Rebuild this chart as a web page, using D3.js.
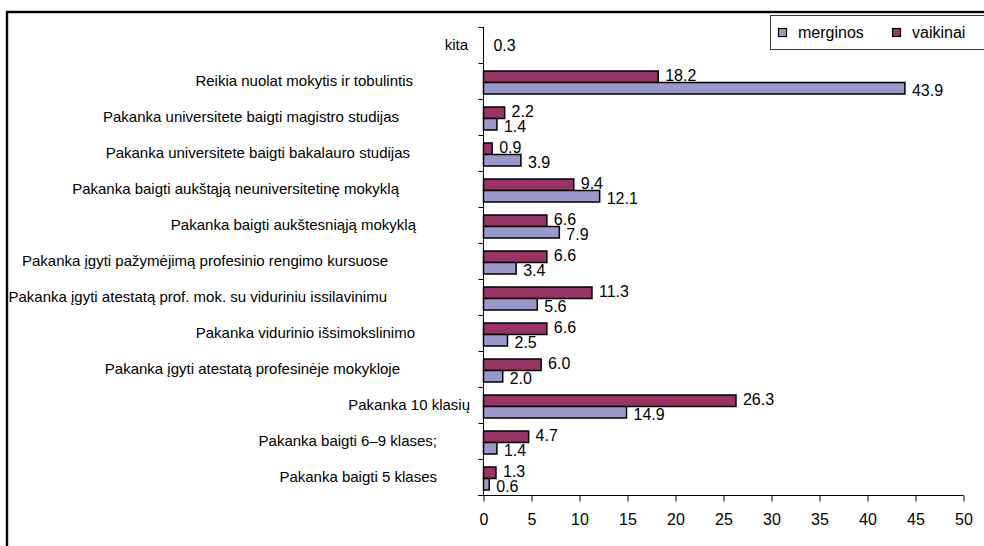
<!DOCTYPE html>
<html>
<head>
<meta charset="utf-8">
<script src="https://cdn.jsdelivr.net/npm/d3@7"></script>
<style>
  body { margin: 0; background: #fff; }
  text { font-family: "Liberation Sans", Arial, sans-serif; fill: #000; }
</style>
</head>
<body>
<div id="chart"></div>
<script>
var width = 984,
  height = 546;

// categories, top to bottom
var categories = [
  'kita',
  'Reikia nuolat mokytis ir tobulintis',
  'Pakanka universitete baigti magistro studijas',
  'Pakanka universitete baigti bakalauro studijas',
  'Pakanka baigti aukštąją neuniversitetinę mokyklą',
  'Pakanka baigti aukštesniąją mokyklą',
  'Pakanka įgyti pažymėjimą profesinio rengimo kursuose',
  'Pakanka įgyti atestatą prof. mok. su viduriniu issilavinimu',
  'Pakanka vidurinio išsimokslinimo',
  'Pakanka įgyti atestatą profesinėje mokykloje',
  'Pakanka 10 klasių',
  'Pakanka baigti 6–9 klases;',
  'Pakanka baigti 5 klases'
];

var merginos = [null, 43.9, 1.4, 3.9, 12.1, 7.9, 3.4, 5.6, 2.5, 2.0, 14.9, 1.4, 0.6];
var vaikinai = [0.3, 18.2, 2.2, 0.9, 9.4, 6.6, 6.6, 11.3, 6.6, 6.0, 26.3, 4.7, 1.3];

var seriesNames = ['merginos', 'vaikinai'];
var seriesColors = { merginos: '#9999CC', vaikinai: '#993366' };
var xTicks = [0, 5, 10, 15, 20, 25, 30, 35, 40, 45, 50];
var labelOnly = ['kita']; // value shown, no bar drawn in the original

// right edge of each category label in the original layout (not aligned)
var labelEnd = [468, 413, 399, 410, 399, 416, 388, 387, 415, 400, 470, 437, 437];

var svg = d3.select('#chart').append('svg')
  .attr('width', width)
  .attr('height', height);

// outer frame (runs past right and bottom edges)
svg.append('rect')
  .attr('x', 7).attr('y', 12)
  .attr('width', 1100).attr('height', 700)
  .attr('fill', 'none')
  .attr('stroke', '#000')
  .attr('stroke-width', 2.4);

var x = d3.scaleLinear().domain([0, 50]).range([483.5, 963.5]);
var y = d3.scaleBand().domain(categories).range([27, 495]);
var ySub = d3.scaleBand().domain(['vaikinai', 'merginos']).range([8, 31]);

var rows = categories.map(function(c, i) {
  return { cat: c, merginos: merginos[i], vaikinai: vaikinai[i] };
});

var g = svg.append('g');

// bars
['vaikinai', 'merginos'].forEach(function(s) {
  var data = rows.filter(function(d) { return d[s] != null; });
  g.selectAll('rect.' + s)
    .data(data.filter(function(d) { return labelOnly.indexOf(d.cat) < 0; }))
    .enter().append('rect')
    .attr('class', s)
    .attr('x', x(0))
    .attr('y', function(d) { return y(d.cat) + ySub(s); })
    .attr('width', function(d) { return x(d[s]) - x(0); })
    .attr('height', ySub.bandwidth())
    .attr('fill', seriesColors[s])
    .attr('stroke', '#000')
    .attr('stroke-width', 1.5);

  g.selectAll('text.lbl-' + s)
    .data(data)
    .enter().append('text')
    .attr('class', 'lbl-' + s)
    .attr('x', function(d) { return x(d[s]) + 7; })
    .attr('y', function(d) {
      if (labelOnly.indexOf(d.cat) >= 0) return y(d.cat) + y.bandwidth() / 2;
      return y(d.cat) + ySub(s) + ySub.bandwidth() / 2 + (s == 'vaikinai' ? -1 : 2);
    })
    .attr('dy', '0.35em')
    .attr('font-size', 16)
    .text(function(d) { return d[s].toFixed(1); });
});

// y axis
var yAxis = svg.append('g')
  .attr('transform', 'translate(' + x(0) + ',0)');
yAxis.append('line')
  .attr('y1', 27).attr('y2', 495)
  .attr('stroke', '#000');
yAxis.selectAll('line.tk')
  .data(categories)
  .enter().append('line')
  .attr('class', 'tk')
  .attr('x1', -5).attr('x2', 0)
  .attr('y1', function(d) { return Math.round(y(d)) + 0.5; })
  .attr('y2', function(d) { return Math.round(y(d)) + 0.5; })
  .attr('stroke', '#000');

svg.append('g').selectAll('text')
  .data(categories)
  .enter().append('text')
  .attr('x', function(d, i) { return labelEnd[i]; })
  .attr('y', function(d) { return y(d) + y.bandwidth() / 2; })
  .attr('dy', '0.35em')
  .attr('text-anchor', 'end')
  .attr('font-size', 15)
  .text(function(d) { return d; });

// x axis
var xAxis = svg.append('g')
  .attr('transform', 'translate(0,495.5)')
  .call(d3.axisBottom(x).tickValues(xTicks).tickSize(6).tickPadding(12).tickSizeOuter(0));
xAxis.select('.domain').attr('d', 'M478,0H' + x(50));
xAxis.selectAll('text')
  .attr('font-size', 16)
  .attr('font-family', '"Liberation Sans", Arial, sans-serif');

// legend
var legend = svg.append('g');
legend.append('rect')
  .attr('x', 770.5).attr('y', 15.5)
  .attr('width', 300).attr('height', 34)
  .attr('fill', '#fff')
  .attr('stroke', '#333');
var li = legend.selectAll('g.item')
  .data(seriesNames)
  .enter().append('g')
  .attr('transform', function(d, i) { return 'translate(' + (778 + i * 114) + ',0)'; });
li.append('rect')
  .attr('x', 0.5).attr('y', 28.5)
  .attr('width', 8).attr('height', 8)
  .attr('fill', function(d) { return seriesColors[d]; })
  .attr('stroke', '#000')
  .attr('stroke-width', 1.2);
li.append('text')
  .attr('x', 20).attr('y', 32.5)
  .attr('dy', '0.35em')
  .attr('font-size', 16)
  .text(function(d) { return d; });
</script>
</body>
</html>
